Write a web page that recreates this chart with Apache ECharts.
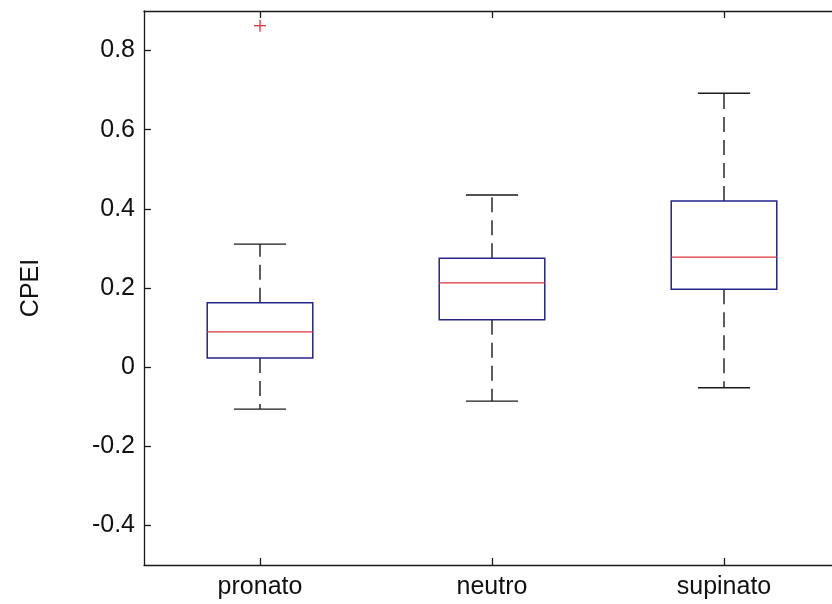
<!DOCTYPE html>
<html>
<head>
<meta charset="utf-8">
<script src="https://cdn.jsdelivr.net/npm/echarts@6/dist/echarts.min.js"></script>
<style>
  html, body { margin: 0; padding: 0; background: #fff; }
  #chart { width: 832px; height: 604px; }
</style>
</head>
<body>
<div id="chart"></div>
<script>
const categories = ["pronato", "neutro", "supinato"];
// per group: lower whisker, q1, median, q3, upper whisker
const lowerWhisker = [-0.106, -0.086, -0.052];
const q1 = [0.023, 0.120, 0.197];
const median = [0.089, 0.213, 0.278];
const q3 = [0.163, 0.275, 0.420];
const upperWhisker = [0.311, 0.435, 0.692];
// outliers: [category index, value]
const outliers = [[0, 0.863]];
const yTicks = [-0.4, -0.2, 0, 0.2, 0.4, 0.6, 0.8];

const boxData = categories.map((c, i) => [i, lowerWhisker[i], q1[i], median[i], q3[i], upperWhisker[i]]);

const FONT = "Liberation Sans, Arial, sans-serif";
const chart = echarts.init(document.getElementById("chart"));

function renderBox(params, api) {
    const idx = api.value(0);
    const band = api.size([1, 0])[0];
    const boxW = band * 0.455;
    const capW = band * 0.225;
    const pLow = api.coord([idx, api.value(1)]);
    const pQ1 = api.coord([idx, api.value(2)]);
    const pMed = api.coord([idx, api.value(3)]);
    const pQ3 = api.coord([idx, api.value(4)]);
    const pHigh = api.coord([idx, api.value(5)]);
    const x = pMed[0];
    const black = { stroke: "#1a1a1a", lineWidth: 1.4 };
    const dashed = { stroke: "#1a1a1a", lineWidth: 1.4, lineDash: [15, 8] };
    return {
        type: "group",
        children: [
            { type: "line", shape: { x1: x, y1: pQ3[1], x2: x, y2: pHigh[1] }, style: dashed },
            { type: "line", shape: { x1: x, y1: pQ1[1], x2: x, y2: pLow[1] }, style: dashed },
            { type: "line", shape: { x1: x - capW / 2, y1: pHigh[1], x2: x + capW / 2, y2: pHigh[1] }, style: black },
            { type: "line", shape: { x1: x - capW / 2, y1: pLow[1], x2: x + capW / 2, y2: pLow[1] }, style: black },
            {
                type: "rect",
                shape: { x: x - boxW / 2, y: pQ3[1], width: boxW, height: pQ1[1] - pQ3[1] },
                style: { fill: "none", stroke: "#24248a", lineWidth: 1.5 }
            },
            { type: "line", shape: { x1: x - boxW / 2, y1: pMed[1], x2: x + boxW / 2, y2: pMed[1] }, style: { stroke: "#d8363a", lineWidth: 1.4 } }
        ]
    };
}

function renderOutlier(params, api) {
    const p = api.coord([api.value(0), api.value(1)]);
    const s = 6;
    const st = { stroke: "#d8363a", lineWidth: 1.3 };
    return {
        type: "group",
        children: [
            { type: "line", shape: { x1: p[0] - s, y1: p[1], x2: p[0] + s, y2: p[1] }, style: st },
            { type: "line", shape: { x1: p[0], y1: p[1] - s, x2: p[0], y2: p[1] + s }, style: st }
        ]
    };
}

const axisLine = { show: true, onZero: false, lineStyle: { color: "#1a1a1a", width: 1.3 } };
const axisTick = { show: true, inside: true, length: 7, lineStyle: { color: "#1a1a1a", width: 1.3 } };

chart.setOption({
    animation: false,
    backgroundColor: "#fff",
    grid: { left: 144, width: 696, top: 11, bottom: 39, outerBoundsMode: "none", containLabel: false },
    xAxis: [
        {
            type: "category",
            data: categories,
            boundaryGap: true,
            position: "bottom",
            axisLine: axisLine,
            axisTick: Object.assign({ alignWithLabel: true }, axisTick),
            axisLabel: { color: "#111", fontSize: 25, fontFamily: FONT, margin: 10 },
            splitLine: { show: false }
        },
        {
            type: "category",
            data: categories,
            boundaryGap: true,
            position: "top",
            axisLine: axisLine,
            axisTick: Object.assign({ alignWithLabel: true }, axisTick),
            axisLabel: { show: false },
            splitLine: { show: false }
        }
    ],
    yAxis: [
        {
            type: "value",
            min: -0.5,
            max: 0.9,
            interval: 0.1,
            name: "CPEI",
            nameLocation: "middle",
            nameGap: 100,
            nameTextStyle: { color: "#111", fontSize: 25, fontFamily: FONT },
            axisLine: axisLine,
            axisTick: Object.assign({}, axisTick, {
                customValues: yTicks
            }),
            axisLabel: {
                color: "#111",
                fontSize: 25,
                fontFamily: FONT,
                margin: 9,
                customValues: yTicks,
                formatter: (v) => (Math.abs(v) < 1e-9 ? "0" : String(Math.round(v * 10) / 10))
            },
            splitLine: { show: false }
        },
        {
            type: "value",
            min: -0.5,
            max: 0.9,
            position: "right",
            axisLine: axisLine,
            axisTick: { show: false },
            axisLabel: { show: false },
            splitLine: { show: false }
        }
    ],
    series: [
        {
            type: "custom",
            renderItem: renderBox,
            data: boxData,
            encode: { x: 0, y: [1, 2, 3, 4, 5] },
            z: 2
        },
        {
            type: "custom",
            renderItem: renderOutlier,
            data: outliers,
            encode: { x: 0, y: 1 },
            z: 3
        }
    ]
});
</script>
</body>
</html>
